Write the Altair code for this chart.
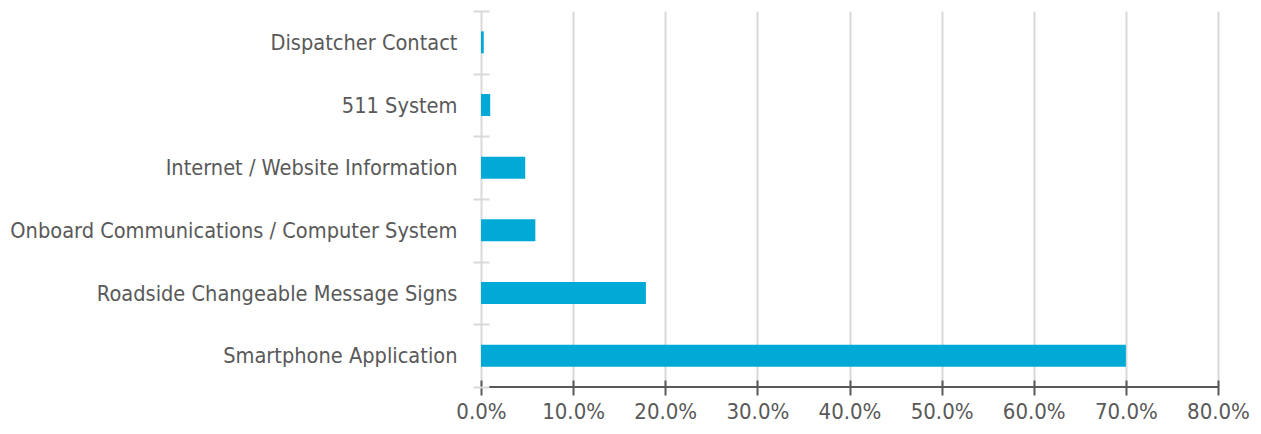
import altair as alt
import pandas as pd

categories = [
    "Dispatcher Contact",
    "511 System",
    "Internet / Website Information",
    "Onboard Communications / Computer System",
    "Roadside Changeable Message Signs",
    "Smartphone Application",
]
values = [0.003, 0.010, 0.048, 0.059, 0.179, 0.700]
x_ticks = [0.0, 0.1, 0.2, 0.3, 0.4, 0.5, 0.6, 0.7, 0.8]

df = pd.DataFrame({"category": categories, "value": values})

FONT = "DejaVu Sans Condensed, Liberation Sans, sans-serif"
TEXT = "#595959"
GRID = "#d9d9d9"
W, H = 737, 376

y_enc = alt.Y(
    "category:N",
    sort=categories,
    title=None,
    scale=alt.Scale(paddingInner=0, paddingOuter=0),
    axis=alt.Axis(
        domain=False,
        offset=-8,
        tickSize=16,
        tickWidth=2,
        tickColor=GRID,
        tickBand="extent",
        labelPadding=16,
        labelFont=FONT,
        labelFontSize=21.6,
        labelColor=TEXT,
        labelLimit=600,
        labelOffset=1,
        grid=False,
        zindex=1,
    ),
)

bars = alt.Chart(df).mark_bar(
    color="#00A9D6", height=alt.RelativeBandSize(0.35)
).encode(
    x=alt.X(
        "value:Q",
        title=None,
        scale=alt.Scale(domain=[0, 0.8], nice=False),
        axis=alt.Axis(
            values=x_ticks,
            format=".1%",
            domain=False,
            offset=-7,
            tickSize=15,
            tickWidth=2,
            tickColor=TEXT,
            labelPadding=6,
            labelFont=FONT,
            labelFontSize=22,
            labelColor=TEXT,
            labelOverlap=False,
            labelFlush=False,
            grid=True,
            gridColor=GRID,
            gridWidth=2,
        ),
    ),
    y=y_enc,
)

domain_line = alt.Chart(df).mark_rule(color=TEXT, strokeWidth=2).encode(
    x=alt.value(8), x2=alt.value(W), y=alt.value(H)
)

chart = (
    alt.layer(bars, domain_line)
    .properties(
        width=W,
        height=H,
        autosize=alt.AutoSizeParams(type="none"),
        padding={"left": 473, "top": 3, "right": 35, "bottom": 40},
    )
    .configure_view(stroke=None)
)

chart.save("out.html", embed_options={"renderer": "svg", "actions": False})
